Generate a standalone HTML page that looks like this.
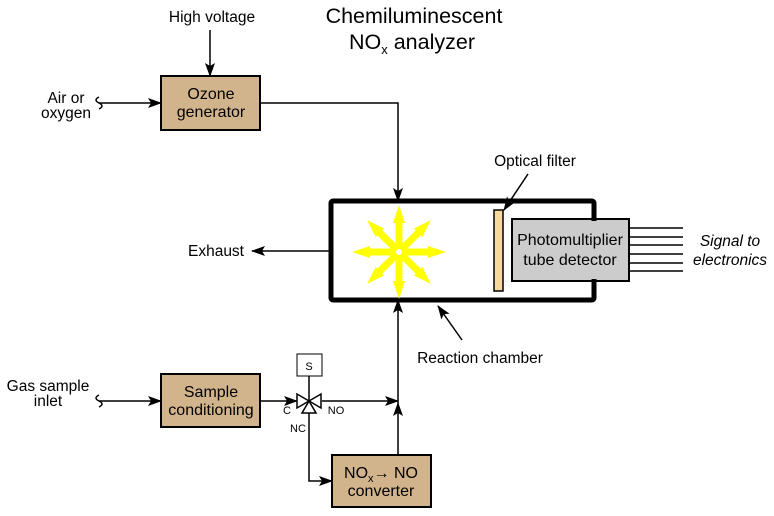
<!DOCTYPE html>
<html><head><meta charset="utf-8"><style>html,body{margin:0;padding:0;background:#fff}svg{display:block}</style></head><body>
<svg width="774" height="516" viewBox="0 0 774 516" xmlns="http://www.w3.org/2000/svg" font-family="Liberation Sans, Arial, sans-serif" font-size="15.5">
<defs>
<marker id="a" markerWidth="14" markerHeight="10" refX="13" refY="5" orient="auto" markerUnits="userSpaceOnUse"><path d="M0,0 L14,5 L0,10 L3,5 Z" fill="#000"/></marker>
<polygon id="ray" points="-3.5,0 -3.5,-29 -6,-29 0,-47 6,-29 3.5,-29 3.5,0" fill="#ffff00"/>
<polygon id="rayd" points="-3.5,0 -3.5,-27 -6,-27 0,-45 6,-27 3.5,-27 3.5,0" fill="#ffff00"/>
</defs>
<g stroke="#000" stroke-width="2">
<rect x="161" y="76" width="99" height="54" fill="#d2b48c"/>
<rect x="161" y="374" width="99" height="53" fill="#d2b48c"/>
<rect x="332" y="455" width="99" height="52" fill="#d2b48c"/>
<rect x="512" y="219" width="117" height="62" fill="#cccccc"/>
<rect x="494" y="210" width="9" height="81" fill="#f7d9a0" stroke-width="1.5"/>
<rect x="331" y="201" width="263" height="99" fill="none" stroke-width="5" rx="2"/>
</g>
<rect x="514" y="221" width="113" height="58" fill="#cccccc"/>
<g transform="translate(399,252)">
<use href="#ray"/><use href="#ray" transform="rotate(90)"/><use href="#ray" transform="rotate(180)"/><use href="#ray" transform="rotate(270)"/>
<use href="#rayd" transform="rotate(45)"/><use href="#rayd" transform="rotate(135)"/><use href="#rayd" transform="rotate(225)"/><use href="#rayd" transform="rotate(315)"/>
<circle r="3" fill="#fff"/>
</g>
<g stroke="#000" stroke-width="1.5" fill="none">
<line x1="210" y1="30" x2="210" y2="76" marker-end="url(#a)"/>
<line x1="99" y1="103" x2="161" y2="103" marker-end="url(#a)"/>
<path d="M99,97 q-6,3 0,6 q6,3 0,6"/>
<path d="M260,103 H398 V201" marker-end="url(#a)"/>
<line x1="331" y1="251" x2="252" y2="251" marker-end="url(#a)"/>
<line x1="99" y1="401" x2="161" y2="401" marker-end="url(#a)"/>
<path d="M99,395 q-6,3 0,6 q6,3 0,6"/>
<line x1="260" y1="401" x2="297" y2="401" marker-end="url(#a)"/>
<line x1="322" y1="401" x2="398" y2="401" marker-end="url(#a)"/>
<line x1="398" y1="455" x2="398" y2="300" marker-end="url(#a)"/>
<path d="M309,413 V481 H332" marker-end="url(#a)"/>
<line x1="462" y1="340" x2="438" y2="306" marker-end="url(#a)"/>
<line x1="528" y1="174" x2="504" y2="210" marker-end="url(#a)"/>
<line x1="309" y1="376" x2="309" y2="401"/>
<path d="M297,394 L321,408 L321,394 L297,408 Z" fill="#fff"/>
<path d="M309,401 L302,413 L316,413 Z" fill="#fff"/>
<rect x="297" y="354" width="25" height="22" fill="#fff" stroke-width="1"/>
<g><line x1="629" y1="228" x2="683" y2="228"/><line x1="629" y1="237" x2="683" y2="237"/><line x1="629" y1="245" x2="683" y2="245"/><line x1="629" y1="254" x2="683" y2="254"/><line x1="629" y1="263" x2="683" y2="263"/><line x1="629" y1="271" x2="683" y2="271"/></g>
</g>
<path d="M398,402 L403,416 L398,413 L393,416 Z" fill="#000"/>
<g fill="#000" text-anchor="middle">
<text x="414" y="23" font-size="21.5">Chemiluminescent</text>
<text x="412" y="49" font-size="21.5">NO<tspan font-size="13" dy="5">x</tspan><tspan dy="-5"> analyzer</tspan></text>
<text x="212" y="22">High voltage</text>
<text x="66" y="103">Air or</text><text x="66" y="118">oxygen</text>
<text x="48" y="391">Gas sample</text><text x="48" y="406">inlet</text>
<text x="211" y="99" font-size="16">Ozone</text><text x="211" y="117" font-size="16">generator</text>
<text x="211" y="397" font-size="16">Sample</text><text x="211" y="415" font-size="16">conditioning</text>
<text x="570" y="245" font-size="16">Photomultiplier</text><text x="570" y="265" font-size="16">tube detector</text>
<text x="535" y="166">Optical filter</text>
<text x="480" y="363">Reaction chamber</text>
<text x="216" y="256">Exhaust</text>
<text font-style="italic" x="730" y="246">Signal to</text><text font-style="italic" x="730" y="265">electronics</text>
<text x="381" y="478" font-size="16">NO<tspan font-size="11" dy="4">x</tspan><tspan dy="-4">→ NO</tspan></text>
<text x="381" y="496" font-size="16">converter</text>
<text x="309" y="370" font-size="11">S</text>
<text x="287" y="414" font-size="11">C</text>
<text x="336" y="414" font-size="11">NO</text>
<text x="298" y="432" font-size="11">NC</text>
</g>
</svg>
</body></html>
